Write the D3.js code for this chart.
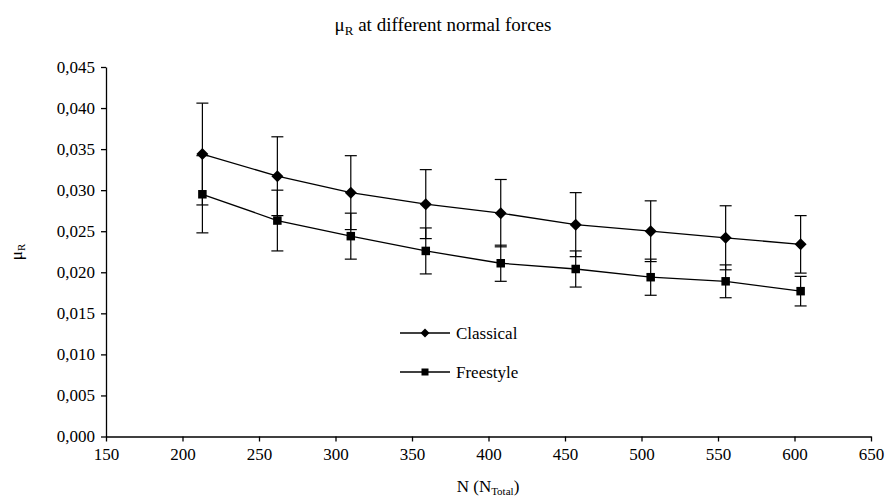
<!DOCTYPE html>
<html>
<head>
<meta charset="utf-8">
<script src="https://cdn.jsdelivr.net/npm/d3@7"></script>
<style>
  html, body { margin: 0; padding: 0; background: #fff; }
  svg { display: block; }
  svg text { font-family: "Liberation Serif", "Times New Roman", Times, "DejaVu Serif", serif !important; fill: #000; }
</style>
</head>
<body>
<svg id="chart" width="890" height="501"></svg>
<script>
// ---- data ----
const normalForce = [213, 262, 310, 359, 408, 457, 506, 555, 604];
const classical     = [0.0344, 0.0317, 0.0297, 0.0283, 0.0272, 0.0258, 0.0250, 0.0242, 0.0234];
const classicalErr  = [0.0062, 0.0048, 0.0045, 0.0042, 0.0041, 0.0039, 0.0037, 0.0039, 0.0035];
const freestyle     = [0.0295, 0.0263, 0.0244, 0.0226, 0.0211, 0.0204, 0.0194, 0.0189, 0.0177];
const freestyleErr  = [0.0047, 0.0037, 0.0028, 0.0028, 0.0022, 0.0022, 0.0022, 0.0020, 0.0018];
const xTicks = [150, 200, 250, 300, 350, 400, 450, 500, 550, 600, 650];
const yTicks = [0, 0.005, 0.010, 0.015, 0.020, 0.025, 0.030, 0.035, 0.040, 0.045];
const seriesNames = ["Classical", "Freestyle"];

// ---- layout ----
const svg = d3.select("#chart");
const plotLeft = 106, plotRight = 871, plotTop = 67, plotBottom = 436.5;
const x = d3.scaleLinear().domain([150, 650]).range([plotLeft, plotRight]);
const y = d3.scaleLinear().domain([0, 0.045]).range([plotBottom, plotTop]);
const fmt = v => d3.format(".3f")(v).replace(".", ",");

// axes
const xAxis = svg.append("g").attr("transform", `translate(0,${plotBottom})`)
  .call(d3.axisBottom(x).tickValues(xTicks).tickSizeInner(5).tickSizeOuter(0).tickPadding(6));
const yAxis = svg.append("g").attr("transform", `translate(${plotLeft},0)`)
  .call(d3.axisLeft(y).tickValues(yTicks).tickFormat(fmt).tickSizeInner(5).tickSizeOuter(0).tickPadding(6));
[xAxis, yAxis].forEach(g => {
  g.attr("font-family", null);
  g.selectAll("path, line").attr("stroke", "#000").attr("stroke-width", 1.3);
  g.selectAll("text").attr("font-size", 17);
});
xAxis.selectAll("text").attr("dy", "0.75em");

// series
const series = [
  { name: seriesNames[0], vals: classical, err: classicalErr, marker: "diamond" },
  { name: seriesNames[1], vals: freestyle, err: freestyleErr, marker: "square" }
];

function drawMarker(g, kind, cx, cy) {
  if (kind === "diamond") {
    const r = 6;
    g.append("path").attr("d", `M${cx},${cy - r}L${cx + r},${cy}L${cx},${cy + r}L${cx - r},${cy}Z`).attr("fill", "#000");
  } else {
    const s = 8.5;
    g.append("rect").attr("x", cx - s / 2).attr("y", cy - s / 2).attr("width", s).attr("height", s).attr("fill", "#000");
  }
}

const line = d3.line().x((d, i) => x(normalForce[i])).y(d => y(d));
const capW = 6;

series.forEach(s => {
  const g = svg.append("g");
  s.vals.forEach((v, i) => {
    const cx = x(normalForce[i]);
    const y1 = y(v + s.err[i]), y2 = y(v - s.err[i]);
    g.append("line").attr("x1", cx).attr("x2", cx).attr("y1", y1).attr("y2", y2).attr("stroke", "#000").attr("stroke-width", 1.2);
    [y1, y2].forEach(yy => g.append("line").attr("x1", cx - capW).attr("x2", cx + capW).attr("y1", yy).attr("y2", yy).attr("stroke", "#000").attr("stroke-width", 1.2));
  });
});
series.forEach(s => {
  const g = svg.append("g");
  g.append("path").attr("d", line(s.vals)).attr("fill", "none").attr("stroke", "#000").attr("stroke-width", 1.3);
  s.vals.forEach((v, i) => drawMarker(g, s.marker, x(normalForce[i]), y(v)));
});

// legend
const legend = svg.append("g");
series.forEach((s, i) => {
  const ly = 333 + i * 39;
  legend.append("line").attr("x1", 400).attr("x2", 450).attr("y1", ly).attr("y2", ly).attr("stroke", "#000").attr("stroke-width", 1.3);
  if (s.marker === "diamond") {
    const r = 4.5;
    legend.append("path").attr("d", `M425,${ly - r}L${425 + r},${ly}L425,${ly + r}L${425 - r},${ly}Z`).attr("fill", "#000");
  } else {
    legend.append("rect").attr("x", 421.5).attr("y", ly - 3.5).attr("width", 7).attr("height", 7).attr("fill", "#000");
  }
  legend.append("text").attr("x", 456).attr("y", ly).attr("dy", "0.35em")
    .attr("font-size", 17).text(s.name);
});

// title
const title = svg.append("text").attr("x", 443).attr("y", 31).attr("text-anchor", "middle")
  .attr("font-size", 19);
title.append("tspan").text("μ");
title.append("tspan").attr("font-size", 13).attr("dy", 4).text("R");
title.append("tspan").attr("dy", -4).text(" at different normal forces");

// y label
const yl = svg.append("text").attr("transform", "translate(22,252) rotate(-90)").attr("text-anchor", "middle")
  .attr("font-size", 17);
yl.append("tspan").text("μ");
yl.append("tspan").attr("font-size", 11).attr("dy", 3).text("R");

// x label
const xl = svg.append("text").attr("x", 488).attr("y", 492).attr("text-anchor", "middle")
  .attr("font-size", 17);
xl.append("tspan").text("N (N");
xl.append("tspan").attr("font-size", 11).attr("dy", 3).text("Total");
xl.append("tspan").attr("dy", -3).text(")");
</script>
</body>
</html>
